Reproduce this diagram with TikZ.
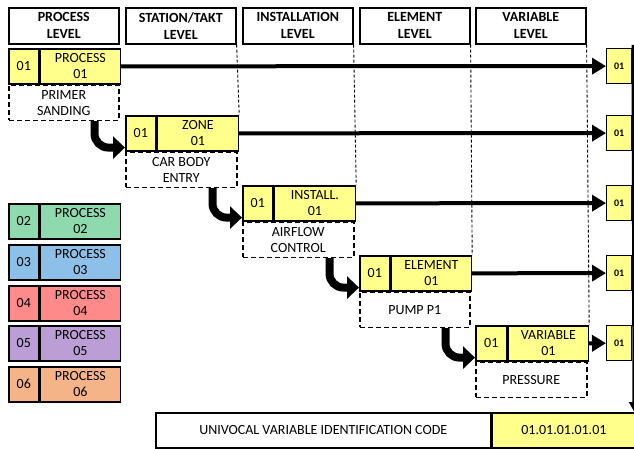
\documentclass[tikz,border=0pt]{standalone}
\usepackage{fontspec}
\setmainfont{Carlito}
\usetikzlibrary{arrows.meta,calc}
\definecolor{yel}{HTML}{FFFF8C}
\definecolor{cgreen}{HTML}{8ED9AE}
\definecolor{cblue}{HTML}{8DC0E8}
\definecolor{cred}{HTML}{FF8A8A}
\definecolor{cpurple}{HTML}{BC9ED6}
\definecolor{corange}{HTML}{F5B487}
\begin{document}
\begin{tikzpicture}[x=1pt,y=-1pt,
  cell/.style={draw, line width=1.6pt, inner sep=0pt, minimum height=35pt, align=center, anchor=north west, font=\fontsize{14}{16}\selectfont},
  ycell/.style={cell, fill=yel},
  hdr/.style={cell, minimum width=110pt, minimum height=36pt, fill=white, font=\bfseries\fontsize{14}{17}\selectfont},
  lab/.style={draw, dash pattern=on 5pt off 3pt, line width=1.5pt, inner sep=0pt, minimum width=110pt, minimum height=35pt, align=center, anchor=north west, font=\fontsize{14}{16}\selectfont},
  rbox/.style={draw, line width=1.3pt, fill=yel, inner sep=0pt, minimum width=25pt, minimum height=35pt, anchor=north west, font=\bfseries\fontsize{10}{11}\selectfont},
  vdash/.style={dash pattern=on 3pt off 2pt, line width=0.9pt},
  harrow/.style={line width=4pt, -{Triangle[length=14pt,width=16pt]}},
  carrow/.style={line width=8pt, rounded corners=14pt, -{Triangle[length=12pt,width=22pt]}},
  varrow/.style={line width=3.5pt, -{Triangle[length=10pt,width=10pt]}}
]
\useasboundingbox (0,0) rectangle (634,449);

% headers
\node[hdr] (h1) at (8,7) {PROCESS\\LEVEL};
\node[hdr] (h2) at (125,7) {STATION/TAKT\\LEVEL};
\node[hdr] (h3) at (242,7) {INSTALLATION\\LEVEL};
\node[hdr] (h4) at (359,7) {ELEMENT\\LEVEL};
\node[hdr] (h5) at (475,7) {VARIABLE\\LEVEL};

% row 1
\node[ycell, minimum width=30pt] (p1n) at (8,48) {01};
\node[ycell, minimum width=80pt] (p1) at (p1n.north east) {PROCESS\\01};
\node[lab] (p1l) at (p1n.south west) {PRIMER\\SANDING};
% row 2
\node[ycell, minimum width=30pt] (z1n) at (125,115) {01};
\node[ycell, minimum width=81pt] (z1) at (z1n.north east) {ZONE\\01};
\node[lab, minimum width=111pt] (z1l) at (z1n.south west) {CAR BODY\\ENTRY};
% row 3
\node[ycell, minimum width=30pt] (i1n) at (242,185) {01};
\node[ycell, minimum width=81pt] (i1) at (i1n.north east) {INSTALL.\\01};
\node[lab, minimum width=111pt] (i1l) at (i1n.south west) {AIRFLOW\\CONTROL};
% row 4
\node[ycell, minimum width=30pt] (e1n) at (359,255) {01};
\node[ycell, minimum width=80pt] (e1) at (e1n.north east) {ELEMENT\\01};
\node[lab] (e1l) at (e1n.south west) {PUMP P1};
% row 5
\node[ycell, minimum width=31pt] (v1n) at (475,325) {01};
\node[ycell, minimum width=80pt] (v1) at (v1n.north east) {VARIABLE\\01};
\node[lab, minimum width=111pt] (v1l) at (v1n.south west) {PRESSURE};

% dashed column lines
\draw[vdash] (h2.south east) -- (z1.north east);
\draw[vdash] (h3.south east) -- (i1.north east);
\draw[vdash] (h4.south east) -- (e1.north east);
\draw[vdash] (h5.south east) -- (v1.north east);

% right boxes
\node[rbox] (r1) at (606,48) {01};
\node[rbox] (r2) at (606,115) {01};
\node[rbox] (r3) at (606,185) {01};
\node[rbox] (r4) at (606,255) {01};
\node[rbox] (r5) at (606,325) {01};

% legend
\node[cell, fill=cgreen, minimum width=30pt] (l2n) at (8,203) {02};
\node[cell, fill=cgreen, minimum width=80pt] (l2) at (l2n.north east) {PROCESS\\02};
\node[cell, fill=cblue, minimum width=30pt] (l3n) at (8,244) {03};
\node[cell, fill=cblue, minimum width=80pt] (l3) at (l3n.north east) {PROCESS\\03};
\node[cell, fill=cred, minimum width=30pt] (l4n) at (8,285) {04};
\node[cell, fill=cred, minimum width=80pt] (l4) at (l4n.north east) {PROCESS\\04};
\node[cell, fill=cpurple, minimum width=30pt] (l5n) at (8,325) {05};
\node[cell, fill=cpurple, minimum width=80pt] (l5) at (l5n.north east) {PROCESS\\05};
\node[cell, fill=corange, minimum width=30pt] (l6n) at (8,366) {06};
\node[cell, fill=corange, minimum width=80pt] (l6) at (l6n.north east) {PROCESS\\06};

% code box
\node[cell, fill=white, minimum width=335pt, minimum height=35pt] (code) at (155,412) {UNIVOCAL VARIABLE IDENTIFICATION CODE};
\node[cell, fill=yel, minimum width=143pt, minimum height=35pt] (cv) at (code.north east) {01.01.01.01.01};

% horizontal arrows
\draw[harrow] (p1.east) -- (r1.west);
\draw[harrow] (z1.east) -- (r2.west);
\draw[harrow] (i1.east) -- (r3.west);
\draw[harrow] (e1.east) -- (r4.west);
\draw[harrow] (v1.east) -- (r5.west);

% curved arrows
\draw[carrow] ([xshift=-25pt]p1l.south east) |- ([yshift=4pt]z1n.south west);
\draw[carrow] ([xshift=-25pt]z1l.south east) |- ([yshift=4pt]i1n.south west);
\draw[carrow] ([xshift=-25pt]i1l.south east) |- ([yshift=4pt]e1n.south west);
\draw[carrow] ([xshift=-25pt]e1l.south east) |- ([yshift=4pt]v1n.south west);

% vertical collector
\coordinate (vtop) at ([xshift=1pt,yshift=3pt]r1.north east);
\draw[varrow] (vtop) -- ([xshift=-2pt]cv.north east);
\end{tikzpicture}
\end{document}
